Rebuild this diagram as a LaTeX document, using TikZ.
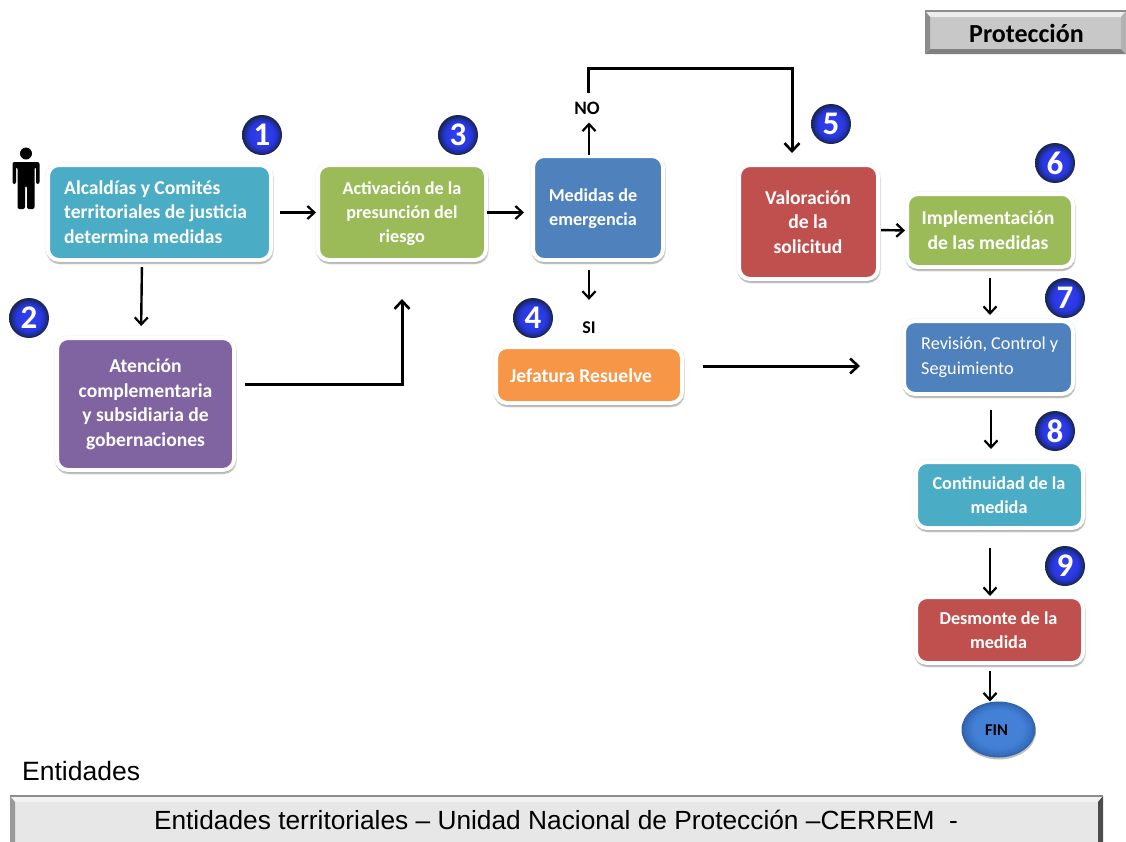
\documentclass[tikz,border=0pt]{standalone}
\usepackage{fontspec}
\setmainfont{Carlito}
\newfontfamily\arialf{Liberation Sans}
\usetikzlibrary{shadows,arrows.meta,calc,shapes.geometric}
\definecolor{cteal}{RGB}{75,172,198}
\definecolor{cgreen}{RGB}{155,187,89}
\definecolor{cblue}{RGB}{79,129,189}
\definecolor{cred}{RGB}{192,80,77}
\definecolor{cpurple}{RGB}{128,100,162}
\definecolor{corange}{RGB}{247,150,70}
\definecolor{cgrey}{RGB}{200,200,200}
\definecolor{clight}{RGB}{231,231,231}
\pgfdeclareradialshading{ballblue}{\pgfpoint{0pt}{0pt}}{
 rgb(0pt)=(0.2,0.25,0.95); rgb(16pt)=(0.16,0.22,0.88); rgb(21pt)=(0.12,0.18,0.62);
 rgb(24pt)=(0.1,0.15,0.32); rgb(30pt)=(0.1,0.15,0.3)}
\pgfdeclareradialshading{finblue}{\pgfpoint{0pt}{2pt}}{
 rgb(0pt)=(0.27,0.5,0.84); rgb(17pt)=(0.26,0.5,0.84); rgb(22pt)=(0.22,0.44,0.76); rgb(27pt)=(0.16,0.34,0.6)}
\tikzset{
 x=1pt,y=-1pt,
 softshadow/.style={
   drop shadow={shadow xshift=0pt,shadow yshift=-0.5pt,opacity=.025,draw=black,fill=black,line width=7pt},
   drop shadow={shadow xshift=0.5pt,shadow yshift=-2pt,opacity=.1,draw=black,fill=black,line width=4.5pt},
   drop shadow={shadow xshift=0.5pt,shadow yshift=-2.5pt,opacity=.14,draw=black,fill=black,line width=3pt}},
 procbox/.style={rectangle,draw=white,line width=4pt,rounded corners=11pt,outer sep=0pt,inner sep=0pt,
   text=white,align=center,softshadow},
 fa/.style={font=\fontsize{18.2}{24}\selectfont\bfseries},
 fb/.style={font=\fontsize{19.6}{24.5}\selectfont\bfseries},
 boxlab/.style={text=white,inner sep=0pt,align=center},
 badge/.style={circle,minimum size=40pt,inner sep=0pt,outer sep=0pt,shading=ballblue,
   text=white,font=\fontsize{33}{33}\selectfont\bfseries},
 arr/.style={draw=black,line width=2.4pt,-{Straight Barb[length=7pt,width=13pt,line width=2.2pt]}},
 arrb/.style={draw=black,line width=3pt,-{Straight Barb[length=8pt,width=15pt,line width=2.6pt]}},
 lab/.style={font=\fontsize{19}{20}\selectfont\bfseries,text=black,inner sep=0pt},
 barbox/.style={rectangle,inner sep=0pt,outer sep=0pt,text=black}
}
\begin{document}
\begin{tikzpicture}
\useasboundingbox (0,0) rectangle (1126,841);
% header bar
\node[barbox,fill=cgrey,minimum width=201pt,minimum height=43pt] (prot) at (1025.5,32.5) {};
\fill[black!7] (prot.north west) -- (prot.north east) -- ++(-5,6) -- ($(prot.north west)+(5,6)$) -- cycle;
\fill[black!50] (prot.south west) -- (prot.south east) -- ++(-5,-5) -- ($(prot.south west)+(5,-5)$) -- cycle;
\fill[black!45] (prot.north west) -- (prot.south west) -- ++(5,-5) -- ($(prot.north west)+(5,6)$) -- cycle;
\fill[black!30] (prot.north east) -- (prot.south east) -- ++(-5,-5) -- ($(prot.north east)+(-5,6)$) -- cycle;
\draw[black!45,line width=1.5pt] (prot.north west) -- (prot.north east);
\node[font=\fontsize{26}{28}\selectfont\bfseries,text=black,inner sep=0pt] (protlab) at (1026.5,33.5) {Protección};
% person
\fill[black] (26,153.5) circle (6);
\fill[black,rounded corners=2pt] (12.5,162) -- (39.5,162) -- (39.5,184) -- (36,184) -- (36,167) -- (34.5,167) -- (34.5,209) -- (27,209) -- (27,186) -- (25,186) -- (25,209) -- (17.5,209) -- (17.5,167) -- (16,167) -- (16,184) -- (12.5,184) -- cycle;
% process boxes
\node[procbox,fill=cteal,minimum width=223pt,minimum height=95pt] (alc) at (159.5,212.5) {};
\node[fb,boxlab,align=left,anchor=west] (alclab) at (64,212) {Alcaldías y Comités\\territoriales de justicia\\determina medidas};
\node[procbox,fill=cpurple,minimum width=177pt,minimum height=132pt] (ate) at (145.5,404) {};
\node[fb,boxlab] (atelab) at (145.5,404.5) {Atención\\complementaria\\y subsidiaria de\\gobernaciones};
\node[procbox,fill=cgreen,minimum width=168pt,minimum height=95pt] (act) at (402,212.5) {};
\node[fa,boxlab] (actlab) at (402,213.5) {Activación de la\\presunción del\\riesgo};
\node[procbox,fill=cblue,minimum width=130pt,minimum height=104pt] (med) at (598,208) {};
\node[fa,boxlab] (medlab) at (593,209) {Medidas de\\emergencia};
\node[procbox,fill=corange,minimum width=186pt,minimum height=56pt] (jef) at (589,375) {};
\node[fb,boxlab] (jeflab) at (581,375.5) {Jefatura Resuelve};
\node[procbox,fill=cred,minimum width=139pt,minimum height=114pt] (val) at (808.5,222) {};
\node[fb,boxlab] (vallab) at (808,222) {Valoración\\de la\\solicitud};
\node[procbox,fill=cgreen,minimum width=166pt,minimum height=73pt] (imp) at (990,230.5) {};
\node[fb,boxlab] (implab) at (988,230) {Implementación\\de las medidas};
\node[procbox,fill=cblue,minimum width=169pt,minimum height=73pt] (rev) at (988.5,357.5) {};
\node[boxlab,align=left,font=\fontsize{18.2}{25}\selectfont,anchor=west] (revlab) at (921,357) {Revisión, Control y\\Seguimiento};
\node[procbox,fill=cteal,minimum width=167pt,minimum height=66pt] (con) at (999.5,495) {};
\node[fa,boxlab] (conlab) at (999,495) {Continuidad de la\\medida};
\node[procbox,fill=cred,minimum width=167pt,minimum height=66pt] (des) at (999.5,630) {};
\node[fa,boxlab] (deslab) at (998.5,630) {Desmonte de la\\medida};
\node[ellipse,minimum width=74pt,minimum height=56pt,inner sep=0pt,outer sep=0pt,shading=finblue,
   drop shadow={shadow xshift=0.5pt,shadow yshift=-2pt,opacity=.25,fill=black}] (fin) at (998.5,729.5) {};
\node[inner sep=0pt,font=\fontsize{16.5}{18}\selectfont\bfseries,text=black] (finlab) at (996.5,730) {FIN};
% labels
\node[lab] (no) at (587,108) {NO};
\node[lab,font=\fontsize{18}{20}\selectfont\bfseries] (si) at (589,328) {SI};
% badges
\foreach \n/\px/\py in {1/262/135,2/29/318,3/458/135,4/533/318,5/831/124,6/1055/163,7/1065/298,8/1055/431,9/1065/566}{
  \node[badge] (b\n) at (\px,\py) {\n};
}
% connectors
\draw[arr,shorten <=9pt,shorten >=2pt] (alc.east) -- (act.west);
\draw[arr,shorten <=7pt,shorten >=12pt] ([xshift=-17.5pt]alc.south) -- ([xshift=-4.5pt]ate.north);
\draw[arrb,shorten <=11pt,shorten >=39pt] ([yshift=20pt]ate.east) -| (act.south);
\draw[arr,shorten <=1pt,shorten >=9pt] (act.east) -- (act.east -| med.west);
\draw[arr,shorten >=8pt,shorten <=1pt] ([xshift=-9pt]med.north) -- ([xshift=-9pt]med.north |- no.south);
\draw[arr,shorten <=10pt,shorten >=22pt] ([xshift=-9pt]med.south) -- ([xshift=-9pt]med.south |- si.north);
\draw[arrb] ([xshift=1pt,yshift=9pt]no.north) |- ([xshift=-16.5pt,yshift=97pt]val.north) -- ([xshift=-16.5pt,yshift=12pt]val.north);
\draw[arrb,shorten <=21pt,shorten >=44pt] ([yshift=9pt]jef.east) -- ([yshift=-8.5pt]rev.west);
\draw[arr,shorten <=3pt,shorten >=2pt] ([yshift=-8pt]val.east) -- (imp.west);
\draw[arr,shorten <=11pt,shorten >=6pt] (imp.south) -- (imp.south |- rev.north);
\draw[arr,shorten <=16pt,shorten >=13pt] ([xshift=2.5pt]rev.south) -- ([xshift=-8.5pt]con.north);
\draw[arr,shorten <=20pt,shorten >=1pt] ([xshift=-9.5pt]con.south) -- ([xshift=-9.5pt]des.north);
\draw[arr,shorten <=8pt,shorten >=0pt] ([xshift=-9.5pt]des.south) -- ([xshift=-8.5pt]fin.north);
% entidades
\node[text=black,inner sep=0pt,anchor=west,font=\arialf\fontsize{26.5}{28}\selectfont] (ent) at (22,771) {Entidades};
\node[barbox,fill=clight,minimum width=1093pt,minimum height=47pt] (bar) at (556.5,819.5) {};
\fill[black!5] (bar.north west) -- (bar.north east) -- ++(-5,6) -- ($(bar.north west)+(5,6)$) -- cycle;
\fill[black!40] (bar.north west) -- (bar.south west) -- ++(5,0) -- ($(bar.north west)+(5,6)$) -- cycle;
\fill[black!70] (bar.north east) -- (bar.south east) -- ++(-5,0) -- ($(bar.north east)+(-5,6)$) -- cycle;
\draw[black!45,line width=1.5pt] (bar.north west) -- (bar.north east);
\node[text=black,inner sep=0pt,font=\arialf\fontsize{26.3}{28}\selectfont] (barlab) at (556,819.5) {Entidades territoriales – Unidad Nacional de Protección –CERREM\ \ -};
\end{tikzpicture}
\end{document}
